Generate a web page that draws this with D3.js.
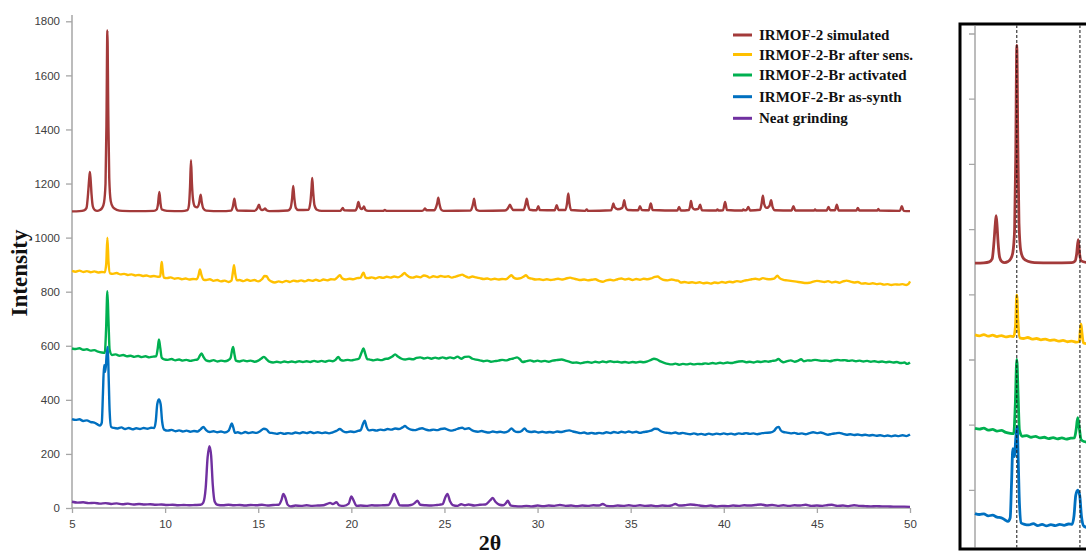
<!DOCTYPE html>
<html>
<head>
<meta charset="utf-8">
<script src="https://cdn.jsdelivr.net/npm/d3@7"></script>
<style>
  html, body { margin: 0; padding: 0; background: #fff; }
  svg { display: block; }
  .tick text { font-family: "Liberation Sans", Arial, sans-serif; font-size: 11.5px; fill: #404040; }
</style>
</head>
<body>
<svg id="chart" width="1086" height="556"></svg>
<script>
// PXRD patterns, [2θ, intensity] pairs
const simulated = [
  [5.0,1097],[5.4,1098],[5.65,1101],[5.78,1110],[5.86,1160],[5.92,1215],[5.96,1243],[6.0,1215],[6.05,1160],[6.12,1115],[6.22,1102],[6.35,1099],
  [6.5,1102],[6.62,1110],[6.72,1130],[6.8,1200],[6.85,1420],[6.9,1766],[6.95,1450],[7.0,1220],[7.08,1135],[7.2,1112],[7.4,1103],[7.7,1099],
  [8.5,1098],[9.4,1099],[9.55,1104],[9.62,1125],[9.69,1169],[9.75,1128],[9.83,1104],[10.1,1099],[10.9,1098],
  [11.2,1102],[11.28,1120],[11.34,1190],[11.39,1286],[11.44,1200],[11.5,1140],[11.6,1115],[11.72,1112],[11.82,1125],[11.88,1150],[11.91,1159],[11.96,1135],[12.05,1108],[12.2,1100],
  [13.0,1098],[13.55,1100],[13.64,1115],[13.72,1144],[13.79,1115],[13.9,1100],
  [14.8,1099],[14.95,1108],[15.04,1122],[15.12,1106],[15.22,1102],[15.3,1104],[15.37,1108],[15.45,1101],[15.6,1098],
  [16.6,1100],[16.74,1110],[16.82,1145],[16.88,1191],[16.94,1145],[17.02,1110],[17.15,1102],
  [17.7,1103],[17.8,1130],[17.86,1180],[17.9,1221],[17.95,1170],[18.02,1120],[18.15,1103],[18.4,1099],
  [19.4,1099],[19.48,1104],[19.54,1110],[19.62,1101],[20.2,1100],[20.3,1110],[20.38,1132],[20.46,1112],[20.55,1106],[20.63,1110],[20.68,1115],[20.76,1102],[20.9,1099],
  [21.7,1099],[21.8,1102],[21.9,1099],[23.8,1099],[23.9,1103],[23.96,1108],[24.04,1101],[24.45,1101],[24.56,1115],[24.62,1130],[24.67,1148],[24.73,1125],[24.82,1104],[24.95,1099],
  [26.4,1100],[26.5,1115],[26.55,1130],[26.59,1144],[26.65,1120],[26.74,1102],[26.9,1099],
  [28.25,1100],[28.38,1106],[28.45,1114],[28.52,1122],[28.6,1110],[28.7,1102],[29.25,1102],[29.35,1122],[29.42,1144],[29.49,1120],[29.58,1103],
  [29.94,1101],[30.04,1116],[30.12,1102],[30.92,1101],[31.03,1120],[31.12,1102],[31.5,1102],[31.58,1125],[31.65,1163],[31.71,1128],[31.8,1102],
  [32.55,1099],[32.64,1104],[32.72,1099],[33.95,1101],[34.02,1114],[34.07,1126],[34.14,1112],[34.3,1105],[34.55,1110],[34.61,1124],[34.65,1138],[34.72,1116],[34.85,1102],
  [35.4,1101],[35.5,1116],[35.6,1102],[35.97,1101],[36.08,1126],[36.18,1102],[37.5,1100],[37.6,1113],[37.7,1100],
  [38.12,1102],[38.2,1120],[38.24,1136],[38.31,1112],[38.45,1104],[38.63,1106],[38.73,1122],[38.83,1101],[39.6,1100],[39.66,1104],[39.72,1100],
  [39.96,1101],[40.07,1132],[40.17,1102],[41.0,1100],[41.05,1104],[41.12,1101],[41.22,1102],[41.32,1113],[41.42,1100],
  [41.95,1103],[42.03,1125],[42.1,1155],[42.17,1124],[42.3,1110],[42.46,1118],[42.54,1138],[42.62,1114],[42.75,1101],
  [43.64,1100],[43.74,1116],[43.84,1100],[44.85,1100],[44.9,1104],[44.96,1100],[45.52,1100],[45.62,1113],[45.72,1101],[45.97,1101],[46.07,1122],[46.17,1100],
  [47.12,1100],[47.2,1110],[47.28,1100],[48.24,1100],[48.3,1106],[48.36,1100],[49.46,1099],[49.56,1116],[49.66,1099],[50.0,1098]
];

const afterSens = [
  [5.0,877],[5.2,874],[5.4,878],[5.6,873],[5.8,876],[6.0,872],[6.2,875],[6.4,871],[6.6,873],[6.76,872],[6.84,905],[6.9,1000],[6.96,910],[7.04,868],
  [7.2,866],[7.4,869],[7.6,864],[7.8,866],[8.0,862],[8.2,864],[8.4,860],[8.6,862],[8.8,858],[9.0,860],[9.2,856],[9.4,858],[9.6,855],[9.74,857],[9.79,895],[9.82,910],[9.86,885],[9.93,852],
  [10.1,850],[10.3,853],[10.5,848],[10.7,850],[10.9,846],[11.1,849],[11.3,845],[11.5,847],[11.7,846],[11.8,862],[11.87,882],[11.95,862],[12.05,845],
  [12.2,843],[12.4,846],[12.6,840],[12.8,843],[13.0,838],[13.2,841],[13.4,836],[13.56,841],[13.64,872],[13.7,898],[13.76,868],[13.85,842],
  [14.0,843],[14.2,839],[14.4,844],[14.6,840],[14.8,843],[15.0,838],[15.2,846],[15.34,858],[15.45,857],[15.56,845],[15.7,838],[15.9,834],
  [16.1,838],[16.3,835],[16.5,840],[16.7,836],[16.9,841],[17.1,838],[17.3,842],[17.5,838],[17.7,843],[17.9,840],[18.1,844],[18.3,840],[18.5,845],[18.7,842],[18.9,846],
  [19.1,845],[19.28,855],[19.39,861],[19.5,850],[19.7,845],[19.9,848],[20.1,846],[20.3,850],[20.5,852],[20.6,866],[20.66,870],[20.75,853],[20.9,850],
  [21.1,853],[21.3,849],[21.5,854],[21.7,851],[21.9,855],[22.1,852],[22.3,856],[22.5,853],[22.7,860],[22.86,869],[22.96,862],[23.1,855],[23.3,852],[23.5,856],[23.7,853],
  [23.9,860],[24.05,858],[24.2,852],[24.4,857],[24.6,854],[24.8,858],[25.0,855],[25.2,857],[25.4,852],[25.6,856],[25.8,860],[25.95,863],[26.1,858],[26.3,852],[26.5,856],
  [26.7,853],[26.9,850],[27.1,847],[27.3,849],[27.5,845],[27.7,848],[27.9,845],[28.1,847],[28.3,846],[28.48,855],[28.6,861],[28.72,852],[28.9,848],[29.1,850],[29.26,856],
  [29.38,861],[29.5,852],[29.7,848],[29.9,845],[30.1,846],[30.3,843],[30.5,846],[30.7,843],[30.9,845],[31.1,848],[31.3,845],[31.5,848],[31.75,852],[31.9,849],[32.1,846],
  [32.3,843],[32.5,845],[32.7,842],[32.9,844],[33.1,846],[33.3,840],[33.5,837],[33.7,842],[33.9,844],[34.1,842],[34.3,846],[34.5,849],[34.7,845],[34.9,848],[35.1,843],
  [35.3,847],[35.5,844],[35.7,848],[35.9,846],[36.1,849],[36.3,855],[36.45,856],[36.6,849],[36.8,843],[37.0,842],[37.2,845],[37.4,842],[37.55,841],[37.7,834],[37.9,836],
  [38.1,833],[38.3,835],[38.5,832],[38.7,835],[38.9,831],[39.1,833],[39.3,830],[39.5,834],[39.7,832],[39.9,836],[40.1,833],[40.3,837],[40.5,835],[40.7,839],[40.9,837],
  [41.1,841],[41.3,843],[41.5,846],[41.7,848],[41.9,845],[42.1,850],[42.3,847],[42.5,846],[42.7,848],[42.88,859],[43.0,850],[43.2,844],[43.4,842],[43.6,840],[43.8,838],
  [44.0,836],[44.2,834],[44.4,832],[44.6,833],[44.8,837],[45.0,840],[45.2,838],[45.4,836],[45.6,839],[45.8,834],[46.0,837],[46.2,833],[46.4,838],[46.6,841],[46.8,837],
  [47.0,834],[47.2,836],[47.4,830],[47.6,831],[47.8,829],[48.0,831],[48.2,828],[48.4,830],[48.6,826],[48.8,828],[49.0,825],[49.2,827],[49.4,826],[49.6,828],[49.8,825],[49.92,829],[50.0,838]
];

const activated = [
  [5.0,590],[5.2,588],[5.4,591],[5.6,585],[5.8,587],[6.0,582],[6.2,584],[6.4,578],[6.6,575],[6.76,574],[6.83,660],[6.9,802],[6.96,690],[7.02,585],
  [7.15,566],[7.35,568],[7.55,563],[7.75,566],[7.95,561],[8.15,563],[8.35,559],[8.55,562],[8.75,558],[8.95,561],[9.15,557],[9.35,560],[9.52,561],[9.6,588],[9.67,623],[9.74,592],[9.82,556],
  [9.95,550],[10.15,548],[10.35,551],[10.55,546],[10.75,549],[10.95,545],[11.15,548],[11.35,544],[11.55,547],[11.75,550],[11.88,565],[11.96,572],[12.05,560],[12.2,546],
  [12.4,543],[12.6,547],[12.8,542],[13.0,545],[13.2,543],[13.4,547],[13.52,556],[13.6,585],[13.65,596],[13.72,570],[13.8,545],[14.0,542],[14.2,546],[14.4,543],[14.6,545],
  [14.8,541],[15.0,545],[15.15,552],[15.31,559],[15.45,550],[15.6,541],[15.8,538],[16.0,541],[16.2,538],[16.4,542],[16.6,539],[16.8,542],[17.0,539],[17.2,543],[17.4,540],
  [17.6,543],[17.8,540],[18.0,544],[18.2,541],[18.4,544],[18.6,541],[18.8,545],[19.0,543],[19.15,548],[19.3,559],[19.42,548],[19.6,545],[19.8,548],[20.0,546],[20.2,549],
  [20.4,552],[20.55,575],[20.65,590],[20.75,570],[20.85,551],[21.0,549],[21.2,546],[21.4,549],[21.6,547],[21.8,551],[22.0,553],[22.2,560],[22.35,568],[22.5,560],[22.7,552],
  [22.9,549],[23.1,552],[23.3,550],[23.5,555],[23.7,557],[23.9,553],[24.1,556],[24.3,552],[24.5,556],[24.7,553],[24.9,557],[25.1,553],[25.3,557],[25.5,554],[25.7,560],
  [25.9,552],[26.1,559],[26.3,560],[26.5,552],[26.7,549],[26.9,546],[27.1,543],[27.3,545],[27.5,541],[27.7,543],[27.9,545],[28.1,548],[28.3,546],[28.5,550],[28.7,553],
  [28.9,557],[29.05,550],[29.2,540],[29.4,543],[29.6,546],[29.8,542],[30.0,545],[30.2,542],[30.4,544],[30.6,541],[30.8,545],[31.0,547],[31.3,549],[31.5,545],[31.7,541],
  [31.9,537],[32.1,538],[32.3,535],[32.5,538],[32.7,540],[32.9,537],[33.1,541],[33.3,538],[33.5,542],[33.7,539],[33.9,543],[34.1,540],[34.3,541],[34.5,538],[34.7,540],
  [34.9,537],[35.1,540],[35.3,538],[35.5,541],[35.7,539],[35.9,542],[36.1,548],[36.25,552],[36.4,550],[36.6,542],[36.8,537],[37.0,533],[37.2,531],[37.4,534],[37.6,530],
  [37.8,533],[38.0,531],[38.2,534],[38.4,531],[38.6,533],[38.8,532],[39.0,535],[39.2,533],[39.4,536],[39.6,534],[39.8,537],[40.0,535],[40.2,538],[40.4,536],[40.6,539],
  [40.8,542],[41.0,543],[41.2,539],[41.4,541],[41.6,538],[41.8,542],[42.0,540],[42.2,543],[42.4,541],[42.6,544],[42.8,546],[42.93,551],[43.05,545],[43.2,539],[43.4,543],
  [43.6,546],[43.8,541],[44.0,545],[44.15,550],[44.3,543],[44.5,546],[44.7,545],[44.9,548],[45.1,546],[45.3,544],[45.5,545],[45.7,543],[45.9,546],[46.1,548],[46.3,546],
  [46.5,547],[46.7,544],[46.9,546],[47.1,543],[47.3,545],[47.5,542],[47.7,544],[47.9,541],[48.1,543],[48.3,540],[48.5,542],[48.7,539],[48.9,541],[49.1,538],[49.3,540],
  [49.5,536],[49.7,538],[49.85,533],[50.0,538]
];

const asSynth = [
  [5.0,329],[5.2,326],[5.4,328],[5.6,322],[5.8,324],[6.0,318],[6.2,316],[6.35,310],[6.5,305],[6.6,316],[6.66,420],[6.72,528],[6.79,504],[6.86,565],[6.92,596],[6.97,480],[7.02,360],
  [7.1,300],[7.25,296],[7.45,294],[7.65,298],[7.85,292],[8.05,296],[8.25,291],[8.45,295],[8.65,292],[8.85,296],[9.05,293],[9.25,297],[9.42,296],[9.5,322],[9.58,385],[9.67,401],
  [9.76,384],[9.84,320],[9.95,290],[10.15,286],[10.35,289],[10.55,284],[10.75,287],[10.95,283],[11.15,286],[11.35,282],[11.55,285],[11.75,283],[11.92,292],[12.05,300],
  [12.2,288],[12.4,281],[12.6,284],[12.8,280],[13.0,283],[13.2,279],[13.4,285],[13.5,300],[13.58,313],[13.66,298],[13.75,278],[13.9,280],[14.1,276],[14.3,281],[14.5,277],
  [14.7,280],[14.9,278],[15.1,284],[15.3,293],[15.45,290],[15.6,279],[15.8,277],[16.0,274],[16.2,278],[16.4,274],[16.6,277],[16.8,275],[17.0,279],[17.2,276],[17.4,280],
  [17.6,277],[17.8,281],[18.0,277],[18.2,280],[18.4,277],[18.6,279],[18.8,276],[19.0,280],[19.2,285],[19.38,292],[19.55,284],[19.75,280],[19.95,283],[20.15,281],[20.35,285],
  [20.5,288],[20.62,310],[20.72,323],[20.82,300],[20.95,287],[21.15,289],[21.35,286],[21.55,290],[21.75,288],[21.95,292],[22.15,290],[22.35,294],[22.55,292],[22.75,298],
  [22.88,303],[23.0,297],[23.2,290],[23.4,288],[23.6,292],[23.8,295],[24.0,290],[24.2,287],[24.4,290],[24.6,288],[24.8,292],[25.0,294],[25.2,289],[25.4,286],[25.6,290],
  [25.8,295],[25.95,297],[26.1,292],[26.3,295],[26.45,289],[26.6,284],[26.8,282],[27.0,285],[27.2,281],[27.4,279],[27.6,283],[27.8,280],[28.0,282],[28.2,279],[28.45,285],
  [28.6,294],[28.75,285],[28.95,281],[29.15,285],[29.3,294],[29.45,284],[29.65,281],[29.85,283],[30.05,279],[30.25,282],[30.45,279],[30.65,281],[30.85,279],[31.05,283],
  [31.25,281],[31.45,284],[31.7,287],[31.9,283],[32.1,280],[32.3,277],[32.5,279],[32.7,275],[32.9,278],[33.1,275],[33.3,278],[33.5,276],[33.7,280],[33.9,277],[34.1,281],
  [34.3,278],[34.5,282],[34.7,279],[34.9,283],[35.1,279],[35.3,282],[35.5,278],[35.7,281],[35.9,283],[36.1,286],[36.3,293],[36.45,292],[36.6,285],[36.8,280],[37.0,278],
  [37.2,276],[37.4,279],[37.6,275],[37.8,278],[38.0,275],[38.2,273],[38.4,276],[38.6,272],[38.8,274],[39.0,271],[39.2,275],[39.4,272],[39.6,275],[39.8,273],[40.0,276],
  [40.2,273],[40.4,275],[40.6,272],[40.8,276],[41.0,274],[41.2,277],[41.4,274],[41.6,276],[41.8,273],[42.0,276],[42.2,278],[42.5,279],[42.7,285],[42.85,298],[42.95,300],
  [43.05,288],[43.2,281],[43.4,279],[43.6,276],[43.8,278],[44.0,274],[44.2,276],[44.4,273],[44.6,277],[44.8,280],[45.0,277],[45.2,279],[45.4,275],[45.6,271],[45.8,274],
  [46.0,276],[46.2,278],[46.4,274],[46.6,271],[46.8,273],[47.0,270],[47.2,272],[47.4,269],[47.6,271],[47.8,268],[48.0,270],[48.2,267],[48.4,269],[48.6,266],[48.8,268],
  [49.0,265],[49.2,268],[49.4,266],[49.6,269],[49.8,266],[50.0,272]
];

const neatGrinding = [
  [5.0,23],[5.3,20],[5.6,21],[5.9,18],[6.2,19],[6.5,16],[6.8,18],[7.1,15],[7.4,17],[7.7,14],[8.0,16],[8.3,13],[8.6,15],[8.9,13],[9.2,14],[9.5,12],[9.8,13],[10.1,11],
  [10.4,12],[10.7,10],[11.0,11],[11.3,10],[11.6,11],[11.9,12],[12.05,20],[12.18,75],[12.28,185],[12.38,229],[12.47,195],[12.56,85],[12.66,24],[12.8,12],[13.1,10],
  [13.4,12],[13.7,10],[14.0,11],[14.3,9],[14.6,11],[14.9,10],[15.2,12],[15.5,9],[15.8,11],[16.1,12],[16.25,30],[16.35,52],[16.45,40],[16.58,12],[16.75,6],[17.0,9],
  [17.3,8],[17.6,10],[17.9,8],[18.2,9],[18.5,10],[18.7,15],[18.86,19],[19.0,15],[19.2,21],[19.35,10],[19.6,8],[19.86,16],[20.0,43],[20.12,28],[20.28,8],[20.5,9],
  [20.8,8],[21.1,10],[21.4,9],[21.7,10],[22.0,11],[22.15,28],[22.3,52],[22.45,30],[22.6,10],[22.9,9],[23.2,11],[23.4,18],[23.55,27],[23.7,12],[24.0,10],[24.3,9],
  [24.6,11],[24.9,14],[25.05,40],[25.16,52],[25.3,25],[25.45,11],[25.7,8],[25.9,14],[26.1,10],[26.3,13],[26.6,9],[26.9,12],[27.2,13],[27.45,28],[27.59,37],[27.75,22],
  [27.95,12],[28.15,10],[28.3,18],[28.4,27],[28.55,10],[28.8,7],[29.1,6],[29.4,8],[29.7,6],[30.0,9],[30.3,7],[30.6,9],[30.9,8],[31.2,11],[31.5,8],[31.8,9],[32.1,7],
  [32.4,9],[32.7,8],[33.0,10],[33.3,9],[33.5,15],[33.7,8],[34.0,7],[34.3,9],[34.6,8],[34.9,10],[35.2,8],[35.5,10],[35.8,8],[36.1,9],[36.4,7],[36.7,9],[37.0,8],[37.25,11],
  [37.4,15],[37.6,9],[37.9,10],[38.2,13],[38.4,12],[38.7,9],[39.0,7],[39.3,9],[39.6,6],[39.9,8],[40.2,7],[40.5,9],[40.8,8],[41.1,10],[41.4,9],[41.7,11],[42.0,13],
  [42.3,9],[42.6,11],[42.9,8],[43.2,10],[43.5,8],[43.8,10],[44.1,9],[44.4,12],[44.7,8],[45.0,9],[45.3,8],[45.6,11],[45.8,12],[46.1,8],[46.4,9],[46.7,7],[47.0,10],
  [47.3,8],[47.6,7],[47.9,6],[48.2,7],[48.5,6],[48.8,6],[49.1,5],[49.4,5],[49.7,5],[50.0,4]
];

const seriesNames = ["IRMOF-2 simulated", "IRMOF-2-Br after sens.", "IRMOF-2-Br activated", "IRMOF-2-Br as-synth", "Neat grinding"];
const xTicks = [5, 10, 15, 20, 25, 30, 35, 40, 45, 50];
const yTicks = [0, 200, 400, 600, 800, 1000, 1200, 1400, 1600, 1800];
const insetTicks = [400, 600, 800, 1000, 1200, 1400, 1600, 1800];
const insetPeaks = [6.9, 9.77];

const series = [simulated, afterSens, activated, asSynth, neatGrinding];
const colors = ["#a33a3a", "#ffc000", "#00b050", "#0070c0", "#7030a0"];

const svg = d3.select("#chart");
const axisGrey = "#a6a6a6";

// ---- main panel ----
const x = d3.scaleLinear().domain([5, 50]).range([72, 910]);
const y = d3.scaleLinear().domain([0, 1800]).range([508, 21.3]);

const xAxis = svg.append("g").attr("transform", "translate(0,508)")
  .call(d3.axisBottom(x).tickValues(xTicks).tickSize(5).tickPadding(7).tickFormat(d3.format("d")));
const yAxis = svg.append("g").attr("transform", "translate(72,0)")
  .call(d3.axisLeft(y).tickValues(yTicks).tickSize(6).tickPadding(6).tickFormat(d3.format("d")));
[xAxis, yAxis].forEach(g => {
  g.select(".domain").remove();
  g.selectAll(".tick line").attr("stroke", axisGrey).attr("stroke-width", 1.3);
});
svg.append("line").attr("x1", 72).attr("x2", 72).attr("y1", 15).attr("y2", 508)
  .attr("stroke", axisGrey).attr("stroke-width", 1.5);
svg.append("line").attr("x1", 72).attr("x2", x(50)).attr("y1", 508).attr("y2", 508)
  .attr("stroke", axisGrey).attr("stroke-width", 1.5);

const line = d3.line().x(d => x(d[0])).y(d => y(d[1])).curve(d3.curveMonotoneX);
series.forEach((s, i) => {
  svg.append("path").datum(s).attr("d", line)
    .attr("fill", "none").attr("stroke", colors[i]).attr("stroke-width", 2.4)
    .attr("stroke-linejoin", "round");
});

// axis titles
svg.append("text").attr("transform", "translate(27,273) rotate(-90)")
  .attr("text-anchor", "middle")
  .style("font-family", "'Liberation Serif', 'Times New Roman', serif")
  .style("font-weight", "bold").style("font-size", "23px").attr("fill", "#111")
  .text("Intensity");
svg.append("text").attr("x", 490).attr("y", 550)
  .attr("text-anchor", "middle")
  .style("font-family", "'Liberation Serif', 'Times New Roman', serif")
  .style("font-weight", "bold").style("font-size", "22px").attr("fill", "#111")
  .text("2θ");

// legend
const legendRows = [35, 54.5, 75, 96.7, 118.3];
const legend = svg.append("g");
seriesNames.forEach((name, i) => {
  const row = legend.append("g").attr("transform", `translate(0,${legendRows[i]})`);
  row.append("line").attr("x1", 733).attr("x2", 752).attr("y1", 0).attr("y2", 0)
    .attr("stroke", colors[i]).attr("stroke-width", 3);
  row.append("text").attr("x", 759).attr("y", 5)
    .style("font-family", "'Liberation Serif', 'Times New Roman', serif")
    .style("font-weight", "bold").style("font-size", "15px").attr("fill", "#111")
    .text(name);
});

// ---- inset: low-angle detail ----
const ix = d3.scaleLinear().domain([5, 10]).range([975, 1085]);
const iy = d3.scaleLinear().domain([0, 1800]).range([620.8, 34]);
const inset = svg.append("g");
const defs = svg.append("defs");
defs.append("clipPath").attr("id", "insetClip")
  .append("rect").attr("x", 961.5).attr("y", 25.5).attr("width", 140).attr("height", 522);

const insetBody = inset.append("g").attr("clip-path", "url(#insetClip)");
insetBody.append("line").attr("x1", 975).attr("x2", 975).attr("y1", 26).attr("y2", 548)
  .attr("stroke", axisGrey).attr("stroke-width", 1.5);
insetBody.selectAll(".itick").data(insetTicks).join("line")
  .attr("x1", 969).attr("x2", 975).attr("y1", d => iy(d)).attr("y2", d => iy(d))
  .attr("stroke", axisGrey).attr("stroke-width", 1.3);

const iline = d3.line().x(d => ix(d[0])).y(d => iy(d[1])).curve(d3.curveMonotoneX);
series.slice(0, 4).forEach((s, i) => {
  insetBody.append("path").datum(s.filter(d => d[0] <= 10.6)).attr("d", iline)
    .attr("fill", "none").attr("stroke", colors[i]).attr("stroke-width", 2.8)
    .attr("stroke-linejoin", "round");
});
insetBody.selectAll(".peakmark").data(insetPeaks).join("line")
  .attr("x1", d => ix(d)).attr("x2", d => ix(d)).attr("y1", 25).attr("y2", 549)
  .attr("stroke", "#111").attr("stroke-width", 1).attr("stroke-dasharray", "3,2");

inset.append("rect").attr("x", 960).attr("y", 24).attr("width", 140).attr("height", 525)
  .attr("fill", "none").attr("stroke", "#000").attr("stroke-width", 3);
</script>
</body>
</html>
